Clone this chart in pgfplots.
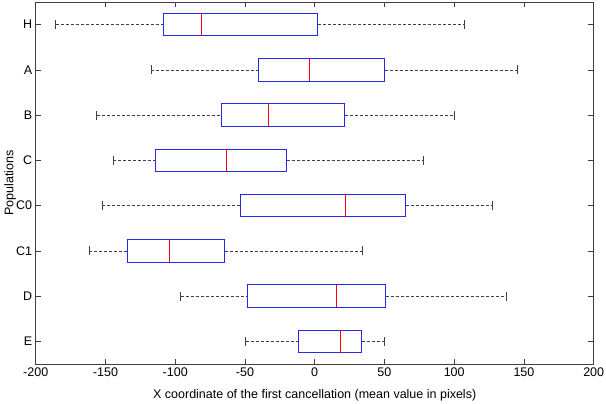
\documentclass[border=0pt]{standalone}
\usepackage{pgfplots}
\pgfplotsset{compat=1.18}
\usepgfplotslibrary{statistics}
\usepackage{fontspec}
\setmainfont{Liberation Sans}
\definecolor{mbox}{RGB}{40,40,235}
\begin{document}
\begin{tikzpicture}
\useasboundingbox (-35.7bp,-40bp) rectangle (570.3bp,364bp);
\begin{axis}[
  at={(0,0)}, anchor=south west,
  scale only axis, width=558bp, height=362bp,
  xmin=-200, xmax=200, ymin=0.5, ymax=8.5,
  xtick={-200,-150,...,200},
  ytick={1,...,8},
  yticklabels={E,D,C1,C0,C,B,A,H},
  tick align=inside, tick pos=both,
  major tick length=5.5bp,
  axis line style={black!75, line width=0.6bp},
  every tick/.style={black!75, line width=0.6bp},
  /pgf/number format/assume math mode=true,
  tick label style={font=\fontsize{12.5bp}{15bp}\selectfont, black},
  xlabel={X coordinate of the first cancellation (mean value in pixels)},
  ylabel={Populations},
  every axis x label/.style={at={(axis description cs:0.5,-0.0856)}, anchor=center, font=\fontsize{12.5bp}{15bp}\selectfont, black},
  every axis y label/.style={at={(axis description cs:-0.046,0.5)}, rotate=90, anchor=center, font=\fontsize{12.5bp}{15bp}\selectfont, black},
  boxplot/draw direction=x,
  boxplot/box extend=0.5,
  boxplot/whisker extend=0.2,
  boxplot/draw/box/.code={%
    \draw[mbox, line width=1bp]
      (boxplot box cs:\pgfplotsboxplotvalue{lower quartile},0) rectangle (boxplot box cs:\pgfplotsboxplotvalue{upper quartile},1);
  },
  boxplot/draw/median/.code={%
    \draw[red, line width=1bp]
      (boxplot box cs:\pgfplotsboxplotvalue{median},0) -- (boxplot box cs:\pgfplotsboxplotvalue{median},1);
  },
  boxplot/draw/lower whisker/.code={%
    \draw[black!75, line width=0.6bp, dash pattern=on 3bp off 2bp]
      (boxplot cs:\pgfplotsboxplotvalue{lower whisker}) -- (boxplot cs:\pgfplotsboxplotvalue{lower quartile});
    \draw[black!75, line width=0.8bp]
      (boxplot whisker cs:\pgfplotsboxplotvalue{lower whisker},0) -- (boxplot whisker cs:\pgfplotsboxplotvalue{lower whisker},1);
  },
  boxplot/draw/upper whisker/.code={%
    \draw[black!75, line width=0.6bp, dash pattern=on 3bp off 2bp]
      (boxplot cs:\pgfplotsboxplotvalue{upper quartile}) -- (boxplot cs:\pgfplotsboxplotvalue{upper whisker});
    \draw[black!75, line width=0.8bp]
      (boxplot whisker cs:\pgfplotsboxplotvalue{upper whisker},0) -- (boxplot whisker cs:\pgfplotsboxplotvalue{upper whisker},1);
  },
]
% H
\addplot[boxplot prepared={draw position=8, lower whisker=-185.7, lower quartile=-108.5, median=-81.0, upper quartile=2.2, upper whisker=107.5}] coordinates {};
% A
\addplot[boxplot prepared={draw position=7, lower whisker=-117.3, lower quartile=-40.4, median=-3.6, upper quartile=50.2, upper whisker=145.0}] coordinates {};
% B
\addplot[boxplot prepared={draw position=6, lower whisker=-156.3, lower quartile=-66.7, median=-33.3, upper quartile=21.7, upper whisker=99.9}] coordinates {};
% C
\addplot[boxplot prepared={draw position=5, lower whisker=-144.4, lower quartile=-114.3, median=-63.1, upper quartile=-20.1, upper whisker=77.9}] coordinates {};
% C0
\addplot[boxplot prepared={draw position=4, lower whisker=-152.2, lower quartile=-53.0, median=21.9, upper quartile=65.2, upper whisker=127.1}] coordinates {};
% C1
\addplot[boxplot prepared={draw position=3, lower whisker=-161.8, lower quartile=-134.3, median=-104.4, upper quartile=-64.5, upper whisker=33.9}] coordinates {};
% D
\addplot[boxplot prepared={draw position=2, lower whisker=-96.1, lower quartile=-48.5, median=15.3, upper quartile=50.9, upper whisker=137.1}] coordinates {};
% E
\addplot[boxplot prepared={draw position=1, lower whisker=-49.5, lower quartile=-11.3, median=18.4, upper quartile=33.7, upper whisker=49.9}] coordinates {};
\end{axis}
\end{tikzpicture}
\end{document}
